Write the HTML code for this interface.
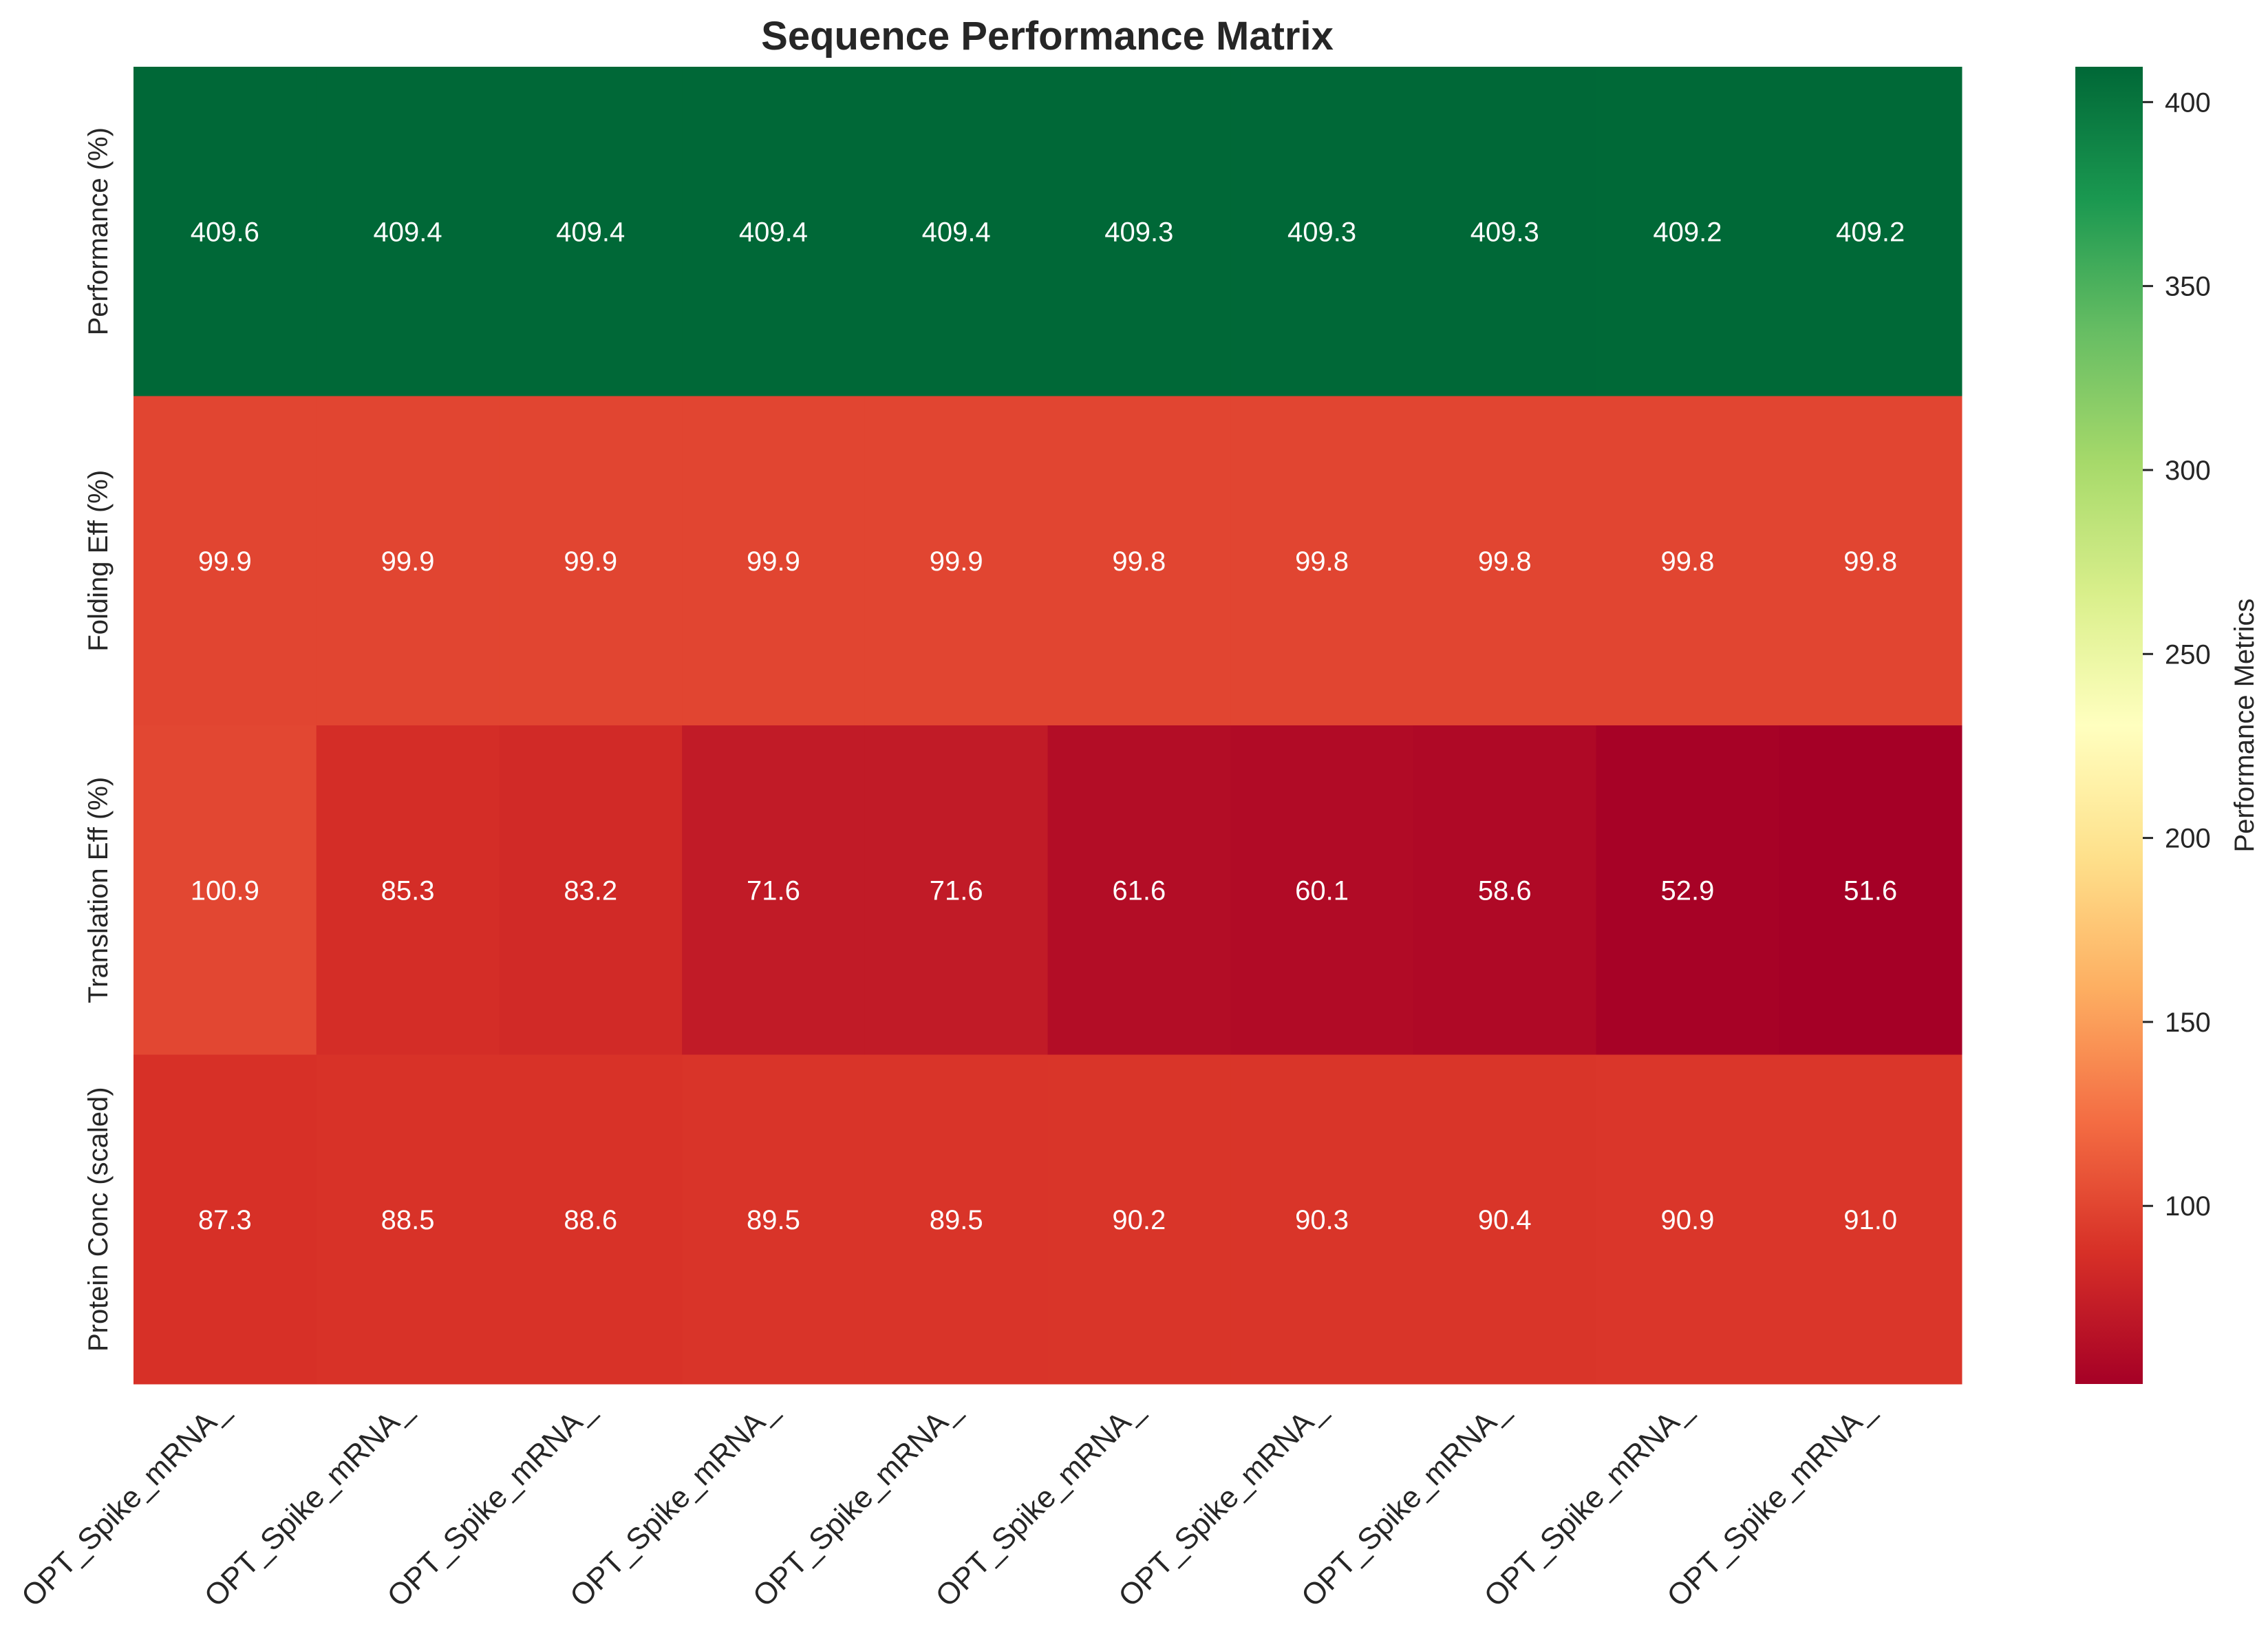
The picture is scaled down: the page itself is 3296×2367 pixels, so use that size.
<!DOCTYPE html>
<html><head><meta charset="utf-8"><style>
html,body{margin:0;padding:0;background:#fff}
svg{display:block}
text{font-family:"Liberation Sans",Arial,sans-serif}
</style></head><body>
<svg id="chart" width="3296" height="2367" viewBox="0 0 3296 2367" xmlns="http://www.w3.org/2000/svg">
<text x="1522" y="72" text-anchor="middle" font-size="58" font-weight="bold" fill="#262626">Sequence Performance Matrix</text>
<g id="cells"></g>
<g id="ylabels"></g>
<g id="xlabels"></g>
<defs><linearGradient id="cbgrad" x1="0" y1="1" x2="0" y2="0"></linearGradient></defs>
<rect x="3016" y="97" width="98" height="1914" fill="url(#cbgrad)"/>
<g id="cbticks"></g>
<text transform="translate(3275,1054) rotate(-90)" text-anchor="middle" font-size="40" fill="#262626">Performance Metrics</text>
</svg>
<script>
const rowLabels = ["Performance (%)", "Folding Eff (%)", "Translation Eff (%)", "Protein Conc (scaled)"];
const colLabels = ["OPT_Spike_mRNA_","OPT_Spike_mRNA_","OPT_Spike_mRNA_","OPT_Spike_mRNA_","OPT_Spike_mRNA_","OPT_Spike_mRNA_","OPT_Spike_mRNA_","OPT_Spike_mRNA_","OPT_Spike_mRNA_","OPT_Spike_mRNA_"];
const perfValues = [409.6,409.4,409.4,409.4,409.4,409.3,409.3,409.3,409.2,409.2];
const foldValues = [99.9,99.9,99.9,99.9,99.9,99.8,99.8,99.8,99.8,99.8];
const transValues = [100.9,85.3,83.2,71.6,71.6,61.6,60.1,58.6,52.9,51.6];
const protValues = [87.3,88.5,88.6,89.5,89.5,90.2,90.3,90.4,90.9,91.0];
const cbTicks = [100,150,200,250,300,350,400];

const NS = "http://www.w3.org/2000/svg";
const rows = [perfValues, foldValues, transValues, protValues];
const all = rows.flat();
const vmin = Math.min(...all), vmax = Math.max(...all);
const L = 194, R = 2851, T = 97, B = 2011;
const cw = (R - L) / colLabels.length, rh = (B - T) / rowLabels.length;
const stops = ["#a50026","#d73027","#f46d43","#fdae61","#fee08b","#ffffbf","#d9ef8b","#a6d96a","#66bd63","#1a9850","#006837"];
function hex(h){return [1,3,5].map(i=>parseInt(h.substr(i,2),16));}
function cmap(v){
  let t = (v - vmin) / (vmax - vmin); t = Math.max(0, Math.min(1, t));
  const p = t * (stops.length - 1), i = Math.min(Math.floor(p), stops.length - 2), f = p - i;
  const a = hex(stops[i]), b = hex(stops[i+1]);
  return "rgb(" + a.map((c,k)=>Math.round(c + (b[k]-c)*f)).join(",") + ")";
}
function xPos(j){return L + j * cw;}
function yPos(i){return T + i * rh;}
function cbY(v){return B - (v - vmin) / (vmax - vmin) * (B - T);}

const cells = document.getElementById("cells");
rows.forEach((vals, i) => {
  vals.forEach((v, j) => {
    const r = document.createElementNS(NS, "rect");
    r.setAttribute("x", xPos(j)); r.setAttribute("y", yPos(i));
    r.setAttribute("width", cw + 0.5); r.setAttribute("height", rh + 0.5);
    r.setAttribute("fill", cmap(v));
    
    
    cells.appendChild(r);
    const t = document.createElementNS(NS, "text");
    t.setAttribute("x", xPos(j) + cw/2); t.setAttribute("y", yPos(i) + rh/2 + 14);
    t.setAttribute("text-anchor", "middle"); t.setAttribute("font-size", "40"); t.setAttribute("fill", "#fff");
    t.textContent = v.toFixed(1);
    
    
    cells.appendChild(t);
  });
});
const yl = document.getElementById("ylabels");
rowLabels.forEach((lab, i) => {
  const t = document.createElementNS(NS, "text");
  const cy = yPos(i) + rh/2;
  t.setAttribute("transform", "translate(156," + cy + ") rotate(-90)");
  t.setAttribute("text-anchor", "middle"); t.setAttribute("font-size", "40"); t.setAttribute("fill", "#262626");
  t.textContent = lab;
  
  
  yl.appendChild(t);
});
const xl = document.getElementById("xlabels");
colLabels.forEach((lab, j) => {
  const t = document.createElementNS(NS, "text");
  const cx = xPos(j) + cw/2;
  t.setAttribute("transform", "translate(" + (cx + 8) + ",2052) rotate(-45)");
  t.setAttribute("text-anchor", "end"); t.setAttribute("font-size", "44"); t.setAttribute("fill", "#262626");
  t.textContent = lab;
  
  
  xl.appendChild(t);
});
const grad = document.getElementById("cbgrad");
for (let k = 0; k <= 40; k++) {
  const s = document.createElementNS(NS, "stop");
  s.setAttribute("offset", k/40);
  s.setAttribute("stop-color", cmap(vmin + (vmax - vmin) * k / 40));
  grad.appendChild(s);
}
const cbt = document.getElementById("cbticks");
cbTicks.forEach(v => {
  const y = cbY(v);
  const l = document.createElementNS(NS, "line");
  l.setAttribute("x1", 3114); l.setAttribute("x2", 3129); l.setAttribute("y1", y); l.setAttribute("y2", y);
  l.setAttribute("stroke", "#262626"); l.setAttribute("stroke-width", "3");
  
  
  cbt.appendChild(l);
  const t = document.createElementNS(NS, "text");
  t.setAttribute("x", 3146); t.setAttribute("y", y + 14);
  t.setAttribute("font-size", "40"); t.setAttribute("fill", "#262626");
  t.textContent = v;
  
  
  cbt.appendChild(t);
});
</script>
</body></html>
